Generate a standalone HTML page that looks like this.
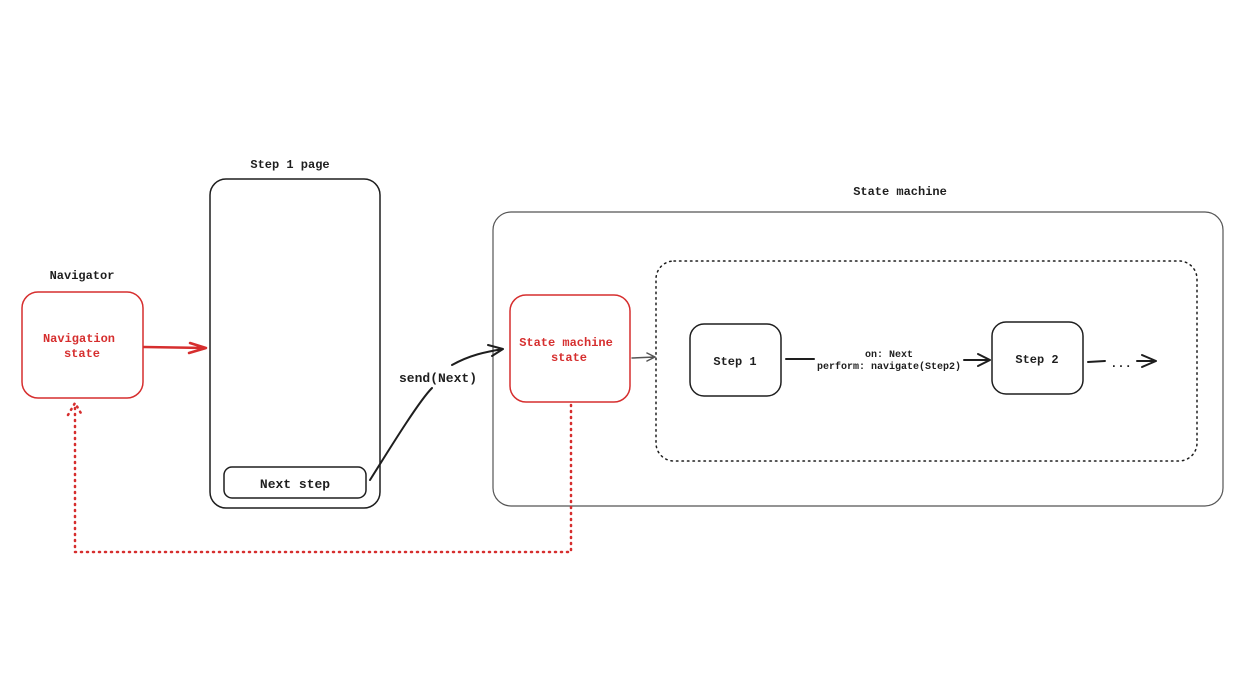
<!DOCTYPE html>
<html><head><meta charset="utf-8"><style>
html,body{margin:0;padding:0;background:#fff;width:1240px;height:681px;overflow:hidden}
text{font-family:"Liberation Mono","DejaVu Sans Mono",monospace;font-weight:bold}
</style></head><body>
<svg width="1240" height="681" viewBox="0 0 1240 681" xmlns="http://www.w3.org/2000/svg">
<g fill="none" stroke-linecap="round" stroke-linejoin="round">
<!-- Navigator -->
<rect x="22" y="292" width="121" height="106" rx="16" stroke="#d62e2e" stroke-width="1.5"/>
<!-- Step 1 page -->
<rect x="210" y="179" width="170" height="329" rx="16" stroke="#1e1e1e" stroke-width="1.5"/>
<rect x="224" y="467" width="142" height="31" rx="8" stroke="#1e1e1e" stroke-width="1.5"/>
<!-- State machine -->
<rect x="493" y="212" width="730" height="294" rx="18" stroke="#555" stroke-width="1.2"/>
<rect x="510" y="295" width="120" height="107" rx="16" stroke="#d62e2e" stroke-width="1.5"/>
<rect x="656" y="261" width="541" height="200" rx="18" stroke="#1e1e1e" stroke-width="1.5" stroke-dasharray="1.5 4"/>
<rect x="690" y="324" width="91" height="72" rx="14" stroke="#1e1e1e" stroke-width="1.5"/>
<rect x="992" y="322" width="91" height="72" rx="14" stroke="#1e1e1e" stroke-width="1.5"/>
<!-- arrows -->
<path d="M144 347 L206 348 M190 343 L206 348 L189 353" stroke="#d62e2e" stroke-width="2.5"/>
<path d="M370 480 C395 440 420 400 432 388 M452 365 C470 355 485 352 503 349 M488 345 L503 349 L492 356" stroke="#1e1e1e" stroke-width="2"/>
<path d="M632 358 L655 357 M647 353 L655 357 L647 361" stroke="#555" stroke-width="1.5"/>
<path d="M786 359 L814 359" stroke="#1e1e1e" stroke-width="2"/>
<path d="M964 360 L990 360 M978 354 L990 360 L978 366" stroke="#1e1e1e" stroke-width="2"/>
<path d="M1088 362 L1105 361 M1137 361 L1156 361 M1142 355 L1156 361 L1142 367" stroke="#1e1e1e" stroke-width="2"/>
<!-- dotted red return -->
<path d="M571 405 L571 552 L75 552 L75 405 M68 415 L75 403 L82 415" stroke="#d62e2e" stroke-width="2.5" stroke-dasharray="1 5"/>
</g>
<g font-size="12" fill="#1e1e1e">
<text x="82" y="279" text-anchor="middle">Navigator</text>
<text x="290" y="168" text-anchor="middle">Step 1 page</text>
<text x="900" y="195" text-anchor="middle">State machine</text>
<text x="295" y="488" text-anchor="middle" font-size="13">Next step</text>
<text x="438" y="382" text-anchor="middle" font-size="13">send(Next)</text>
<text x="735" y="365" text-anchor="middle">Step 1</text>
<text x="1037" y="363" text-anchor="middle">Step 2</text>
<text x="1121" y="367" text-anchor="middle">...</text>
<text x="889" y="357" text-anchor="middle" font-size="10" font-weight="normal">on: Next</text>
<text x="889" y="369" text-anchor="middle" font-size="10" font-weight="normal">perform: navigate(Step2)</text>
</g>
<g font-size="12" fill="#d62e2e">
<text x="79" y="342" text-anchor="middle">Navigation</text>
<text x="82" y="357" text-anchor="middle">state</text>
<text x="566" y="346" text-anchor="middle">State machine</text>
<text x="569" y="361" text-anchor="middle">state</text>
</g>
</svg>
</body></html>
